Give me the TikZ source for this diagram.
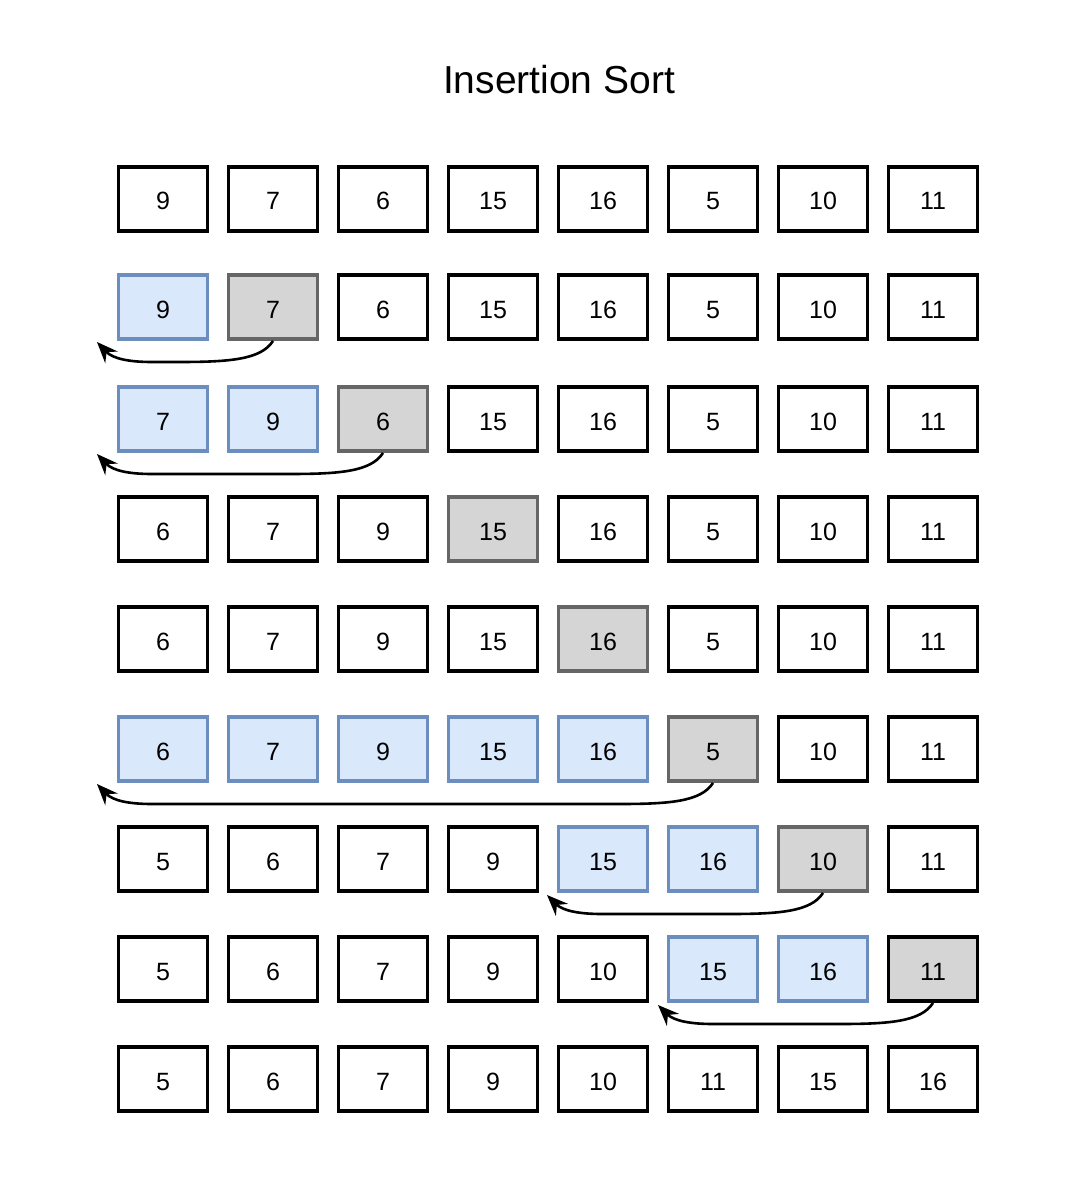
\documentclass[tikz,border=0pt]{standalone}
\usepackage{fontspec}
\setmainfont{Liberation Sans}
\usetikzlibrary{arrows.meta}
\definecolor{W}{HTML}{FFFFFF}
\definecolor{K}{HTML}{000000}
\definecolor{B}{HTML}{DAE8FC}
\definecolor{BD}{HTML}{6C8EBF}
\definecolor{G}{HTML}{D5D5D5}
\definecolor{GD}{HTML}{666666}
\tikzset{
  cell/.style={rectangle, minimum width=89pt, minimum height=64pt, line width=3.8pt, inner sep=0pt, text height=22pt, text depth=0pt, font=\fontsize{25}{28}\selectfont},
  move/.style={line width=2.6pt, -{Stealth[length=21pt,width=17pt,inset=7pt]}},
}
\begin{document}
\begin{tikzpicture}[x=1pt,y=-1pt]
\useasboundingbox (0,0) rectangle (1078,1190);
\node[font=\fontsize{39}{44}\selectfont] (title) at (559,80) {Insertion Sort};
\foreach \y/\lst [count=\r] in {
  199/{9/W/K,7/W/K,6/W/K,15/W/K,16/W/K,5/W/K,10/W/K,11/W/K},
  307/{9/B/BD,7/G/GD,6/W/K,15/W/K,16/W/K,5/W/K,10/W/K,11/W/K},
  419/{7/B/BD,9/B/BD,6/G/GD,15/W/K,16/W/K,5/W/K,10/W/K,11/W/K},
  529/{6/W/K,7/W/K,9/W/K,15/G/GD,16/W/K,5/W/K,10/W/K,11/W/K},
  639/{6/W/K,7/W/K,9/W/K,15/W/K,16/G/GD,5/W/K,10/W/K,11/W/K},
  749/{6/B/BD,7/B/BD,9/B/BD,15/B/BD,16/B/BD,5/G/GD,10/W/K,11/W/K},
  859/{5/W/K,6/W/K,7/W/K,9/W/K,15/B/BD,16/B/BD,10/G/GD,11/W/K},
  969/{5/W/K,6/W/K,7/W/K,9/W/K,10/W/K,15/B/BD,16/B/BD,11/G/K},
  1079/{5/W/K,6/W/K,7/W/K,9/W/K,10/W/K,11/W/K,15/W/K,16/W/K}} {
  \foreach \v/\f/\d [count=\c] in \lst {
    \node[cell, fill=\f, draw=\d] (n\r-\c) at ({163+110*(\c-1)}, \y) {\v};
  }
}
\coordinate (t2) at (97,342);
\coordinate (t3) at (97,454);
\coordinate (t6) at (97,784);
\coordinate (t7) at (547,895);
\coordinate (t8) at (658,1005);
\draw[move] (n2-2.south) .. controls (261,360) and (228,362) .. (178,362) -- (152,362) .. controls (130,362) and (113,359) .. (t2);
\draw[move] (n3-3.south) .. controls (371,472) and (338,474) .. (288,474) -- (152,474) .. controls (130,474) and (113,471) .. (t3);
\draw[move] (n6-6.south) .. controls (701,802) and (668,804) .. (618,804) -- (152,804) .. controls (130,804) and (113,801) .. (t6);
\draw[move] (n7-7.south) .. controls (811,912) and (778,914) .. (728,914) -- (602,914) .. controls (580,914) and (563,911) .. (t7);
\draw[move] (n8-8.south) .. controls (921,1022) and (888,1024) .. (838,1024) -- (713,1024) .. controls (691,1024) and (674,1021) .. (t8);
\end{tikzpicture}
\end{document}
